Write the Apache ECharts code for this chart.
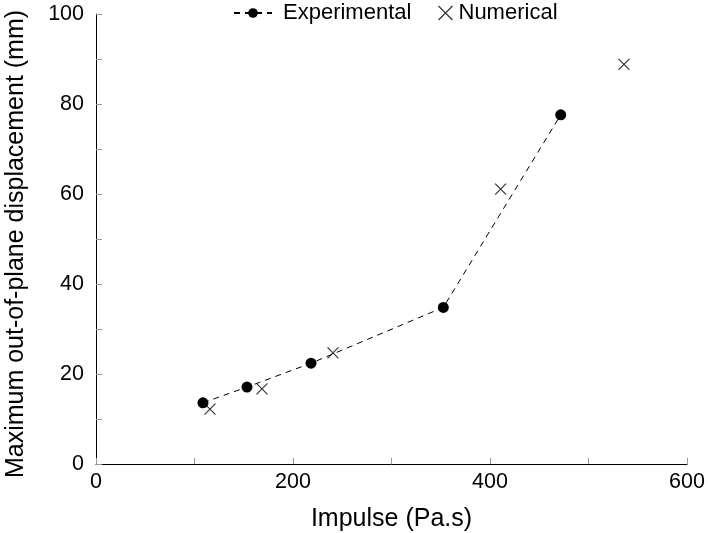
<!DOCTYPE html>
<html>
<head>
<meta charset="utf-8">
<script src="https://cdn.jsdelivr.net/npm/echarts@6/dist/echarts.min.js"></script>
<style>html,body{margin:0;padding:0;background:#fff}#c{width:708px;height:533px}</style>
</head>
<body>
<div id="c"></div>
<script>
const expImpulse = [108.6, 153.3, 218.3, 352.6, 471.8];
const expDisp = [13.6, 17.1, 22.4, 34.8, 77.6];
const numImpulse = [115.7, 168.5, 240.6, 410.8, 536.0];
const numDisp = [12.2, 16.7, 24.7, 61.1, 88.8];
const xTicks = [0, 200, 400, 600];
const yTicks = [0, 20, 40, 60, 80, 100];

const FONT = 'Liberation Sans';
const crossPath = 'path://M0,0L10,10M10,0L0,10';
const chart = echarts.init(document.getElementById('c'));
chart.setOption({
  animation: false,
  textStyle: { fontFamily: FONT, color: '#000' },
  grid: { left: 96, right: 21, top: 14, bottom: 69, containLabel: false, outerBoundsMode: 'none' },
  legend: [
    { data: ['Experimental'], left: 233, top: 2, padding: 0, itemWidth: 38, itemHeight: 12,
      textStyle: { fontSize: 22, fontFamily: FONT, color: '#000', padding: [0, 0, 0, 6] } },
    { data: [{ name: 'Numerical', icon: crossPath }], left: 436, top: 2, padding: 0, itemWidth: 14, itemHeight: 14,
      itemStyle: { color: 'none', borderColor: '#000', borderWidth: 1.2 },
      textStyle: { fontSize: 22, fontFamily: FONT, color: '#000', padding: [0, 0, 0, 1] } }
  ],
  xAxis: {
    type: 'value', min: 0, max: 600, interval: 100,
    name: 'Impulse (Pa.s)', nameLocation: 'middle', nameGap: 43,
    nameTextStyle: { fontSize: 25, fontFamily: FONT, color: '#000' },
    axisLine: { lineStyle: { color: '#000', width: 1 } },
    axisTick: { inside: true, length: 6, lineStyle: { color: '#999' } },
    axisLabel: { fontSize: 21.5, fontFamily: FONT, color: '#000', margin: 7,
      formatter: v => xTicks.includes(v) ? String(v) : '' },
    splitLine: { show: false }
  },
  yAxis: {
    type: 'value', min: 0, max: 100, interval: 10,
    name: 'Maximum out-of-plane displacement (mm)', nameLocation: 'middle', nameGap: 67,
    nameTextStyle: { fontSize: 25, fontFamily: FONT, color: '#000', padding: [0, 10, 0, 0] },
    axisLine: { show: true, lineStyle: { color: '#000', width: 1 } },
    axisTick: { show: true, inside: true, length: 6, lineStyle: { color: '#999' } },
    axisLabel: { fontSize: 21.5, fontFamily: FONT, color: '#000', margin: 12,
      formatter: v => yTicks.includes(v) ? String(v) : '' },
    splitLine: { show: false }
  },
  series: [
    { name: 'Experimental', type: 'line', data: expImpulse.map((x, i) => [x, expDisp[i]]),
      symbol: 'circle', symbolSize: 11,
      itemStyle: { color: '#000' },
      lineStyle: { color: '#000', width: 1, type: [6, 5] } },
    { name: 'Numerical', type: 'scatter', data: numImpulse.map((x, i) => [x, numDisp[i]]),
      symbol: crossPath, symbolSize: 11,
      itemStyle: { color: 'none', borderColor: '#000', borderWidth: 1.2 } }
  ]
});
</script>
</body>
</html>
